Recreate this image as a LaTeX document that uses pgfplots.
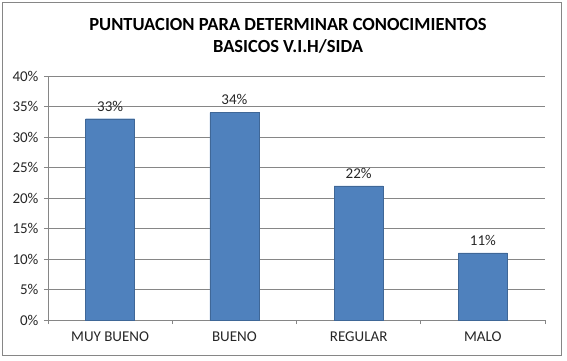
\documentclass[border=0pt]{standalone}
\usepackage{pgfplots}
\pgfplotsset{compat=1.18}
\usepackage{fontspec}
\setmainfont{Carlito}
\definecolor{barblue}{HTML}{4F81BD}
\definecolor{gridgray}{HTML}{868686}
\begin{document}
\begin{tikzpicture}[x=1pt,y=1pt]
\path[use as bounding box] (-48,-40) rectangle (519,320);
\draw[gridgray, line width=0.8pt] (-46,-35) rectangle (513,318);
\node[font=\fontsize{18.5}{22}\selectfont\bfseries, align=center] at (240,284) {PUNTUACION PARA DETERMINAR CONOCIMIENTOS\\BASICOS V.I.H/SIDA};
\begin{axis}[
  at={(0,0)}, anchor=south west,
  scale only axis, width=497pt, height=244pt,
  ymin=0, ymax=40, ytick={0,5,...,40},
  yticklabel={\pgfmathprintnumber{\tick}\%},
  xmin=-0.5, xmax=3.5,
  xtick={0,1,2,3},
  xticklabels={MUY BUENO,BUENO,REGULAR,MALO},
  minor xtick={-0.5,0.5,1.5,2.5,3.5},
  major x tick style={draw=none},
  tick align=outside,
  tick style={gridgray, line width=0.6pt},
  major tick length=4pt, minor tick length=4pt,
  axis x line*=bottom, axis y line*=left,
  axis line style={gridgray, line width=0.6pt, -},
  ymajorgrids, grid style={gridgray, line width=0.6pt},
  ticklabel style={font=\fontsize{15}{17}\selectfont, text=black!85},
  /pgf/number format/assume math mode=true,
  xticklabel style={yshift=-4pt},
  yticklabel style={xshift=-2pt},
  ybar, bar width=49pt,
  nodes near coords={\pgfmathprintnumber{\pgfplotspointmeta}\%},
  nodes near coords style={font=\fontsize{15}{17}\selectfont, text=black!85, yshift=4pt},
  clip=false,
]
\addplot[fill=barblue, draw=barblue!80!black] coordinates {(0,33) (1,34) (2,22) (3,11)};
\end{axis}
\end{tikzpicture}
\end{document}
